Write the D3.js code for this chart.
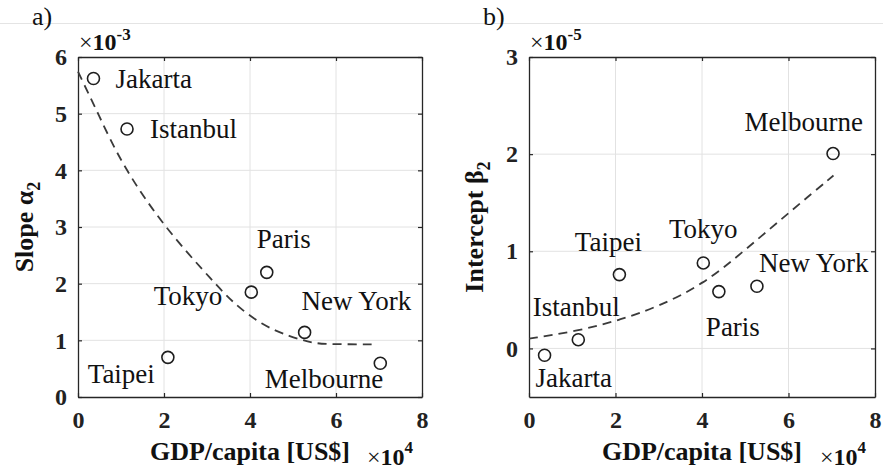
<!DOCTYPE html>
<html>
<head>
<meta charset="utf-8">
<script src="https://cdnjs.cloudflare.com/ajax/libs/d3/7.8.5/d3.min.js"></script>
<style>
body{margin:0;background:#fff}
svg{display:block}
text{font-family:"Liberation Serif","Times New Roman",serif;fill:#111}
</style>
</head>
<body>
<svg id="fig" width="883" height="472"></svg>
<script>
'use strict';
// data
var cities = ['Jakarta','Istanbul','Taipei','Tokyo','Paris','New York','Melbourne'];
var gdp = [0.36,1.14,2.09,4.03,4.39,5.27,7.03];              // x 10^4 US$
var slope = [5.62,4.73,0.70,1.85,2.20,1.14,0.595];           // x 10^-3
var intercept = [-0.07,0.09,0.76,0.88,0.585,0.64,2.006];      // x 10^-5

// dashed fit curves
var slopeFitX = [0,0.47,1.02,2.0,3.19,3.61,4.27,4.93,5.47,5.8,6.95];
var slopeFitY = [5.74,5.0,4.1,3.0,2.0,1.66,1.27,1.065,0.95,0.93,0.93];
var interceptFitX = [0,1.14,2.08,2.99,4.03,4.99,6.07,7.04];
var interceptFitY = [0.10,0.18,0.29,0.43,0.66,1.01,1.42,1.78];

var xTicks = [0,2,4,6,8];
var slopeTicks = [0,1,2,3,4,5,6];
var interceptTicks = [0,1,2,3];

var svg = d3.select('#fig');

// thin line across the top of the figure
svg.append('line').attr('x1',0).attr('x2',883).attr('y1',23.5).attr('y2',23.5)
   .style('stroke','#e4e4e4').style('stroke-width',1);

var drawPanel = function(o){
	var g = svg.append('g').attr('id',o.id);
	var x = d3.scaleLinear().domain([0,8]).range([o.left,o.right]);
	var y = d3.scaleLinear().domain(o.yDomain).range([o.bottom,o.top]);

	// grid
	g.append('g').selectAll('line').data(xTicks.slice(1,-1)).enter().append('line')
		.attr('x1',d=>x(d)).attr('x2',d=>x(d)).attr('y1',o.top).attr('y2',o.bottom)
		.style('stroke','#e2e2e2').style('stroke-width',1);
	g.append('g').selectAll('line').data(o.yTicks.filter(t=>y(t)>o.top+1&&y(t)<o.bottom-1)).enter().append('line')
		.attr('y1',d=>y(d)).attr('y2',d=>y(d)).attr('x1',o.left).attr('x2',o.right)
		.style('stroke','#e2e2e2').style('stroke-width',1);

	// frame + inward ticks
	var fmt = d3.format('d');
	var axes = [
		{fn:d3.axisBottom(x).tickValues(xTicks).tickFormat(fmt).tickPadding(13.5),t:'translate(0,'+o.bottom+')'},
		{fn:d3.axisTop(x).tickValues(xTicks).tickFormat(''),t:'translate(0,'+o.top+')'},
		{fn:d3.axisLeft(y).tickValues(o.yTicks).tickFormat(fmt).tickPadding(11),t:'translate('+o.left+',0)'},
		{fn:d3.axisRight(y).tickValues(o.yTicks).tickFormat(''),t:'translate('+o.right+',0)'}
	];
	axes.forEach(function(a){
		var ax = g.append('g').attr('transform',a.t)
			.call(a.fn.tickSize(-4).tickSizeOuter(0));
		ax.select('.domain').style('stroke','#262626').style('stroke-width',1.3);
		ax.selectAll('.tick line').style('stroke','#262626').style('stroke-width',1.2);
		ax.selectAll('.tick text')
			.style('font-family','"Liberation Serif",serif')
			.style('font-size','24px').style('font-weight','bold').style('fill','#222');
	});

	// fit curve
	var fit = o.fitX.map((v,i)=>[v,o.fitY[i]]);
	g.append('path')
		.attr('d',d3.line().x(d=>x(d[0])).y(d=>y(d[1])).curve(d3.curveBasis)(fit))
		.style('fill','none').style('stroke','#3a3a3a').style('stroke-width',1.8)
		.style('stroke-dasharray','9,6');

	// points
	g.append('g').selectAll('circle').data(gdp).enter().append('circle')
		.attr('cx',d=>x(d)).attr('cy',(d,i)=>y(o.values[i])).attr('r',6)
		.style('fill','none').style('stroke','#1e1e1e').style('stroke-width',1.6);

	// city labels
	g.append('g').selectAll('text').data(cities).enter().append('text')
		.attr('x',(d,i)=>x(gdp[i])+o.labels[i][0])
		.attr('y',(d,i)=>y(o.values[i])+o.labels[i][1])
		.style('text-anchor',(d,i)=>o.labels[i][2])
		.style('font-size','27px')
		.text(d=>d);

	// axis titles
	g.append('text')
		.attr('x',(o.left+o.right)/2).attr('y',460)
		.style('text-anchor','middle').style('font-size','26px').style('font-weight','bold')
		.text('GDP/capita [US$]');
	var yl = g.append('text')
		.attr('transform','translate('+o.yLabelX+','+(o.top+o.bottom)/2+') rotate(-90)')
		.style('text-anchor','middle').style('font-size','26px').style('font-weight','bold');
	yl.append('tspan').text(o.yLabel);
	yl.append('tspan').attr('dy',7).style('font-size','18px').text('2');

	// exponent labels
	var e1 = g.append('text').attr('x',o.left+1).attr('y',50)
		.style('font-size','24px').style('font-weight','bold');
	e1.append('tspan').style('font-weight','normal').text('\u00d7');
	e1.append('tspan').text('10');
	e1.append('tspan').attr('dy',-10).style('font-size','17px').text(o.yExp);
	var e2 = g.append('text').attr('x',o.right-55).attr('y',465)
		.style('font-size','24px').style('font-weight','bold');
	e2.append('tspan').style('font-weight','normal').text('\u00d7');
	e2.append('tspan').text('10');
	e2.append('tspan').attr('dy',-12).style('font-size','17px').text('4');

	// panel letter
	g.append('text').attr('x',o.left-46).attr('y',25).style('font-size','26px').text(o.tag);
};

drawPanel({
	id:'panelA', tag:'a)', left:78, right:422, top:57, bottom:397,
	yDomain:[0,6], yTicks:slopeTicks, values:slope,
	fitX:slopeFitX, fitY:slopeFitY,
	yLabel:'Slope \u03b1', yLabelX:33, yExp:'-3',
	labels:[[22,9,'start'],[23,9,'start'],[-13,26,'end'],[-29,13,'end'],[-10,-24,'start'],[-3,-22,'start'],[3,25,'end']]
});

drawPanel({
	id:'panelB', tag:'b)', left:529, right:875, top:57, bottom:397,
	yDomain:[-0.5,3], yTicks:interceptTicks, values:intercept,
	fitX:interceptFitX, fitY:interceptFitY,
	yLabel:'Intercept \u03b2', yLabelX:483, yExp:'-5',
	labels:[[-9,32,'start'],[-2,-24,'middle'],[-11,-24,'middle'],[0,-25,'middle'],[-13,44,'start'],[2,-14,'start'],[30,-23,'end']]
});
</script>
</body>
</html>
